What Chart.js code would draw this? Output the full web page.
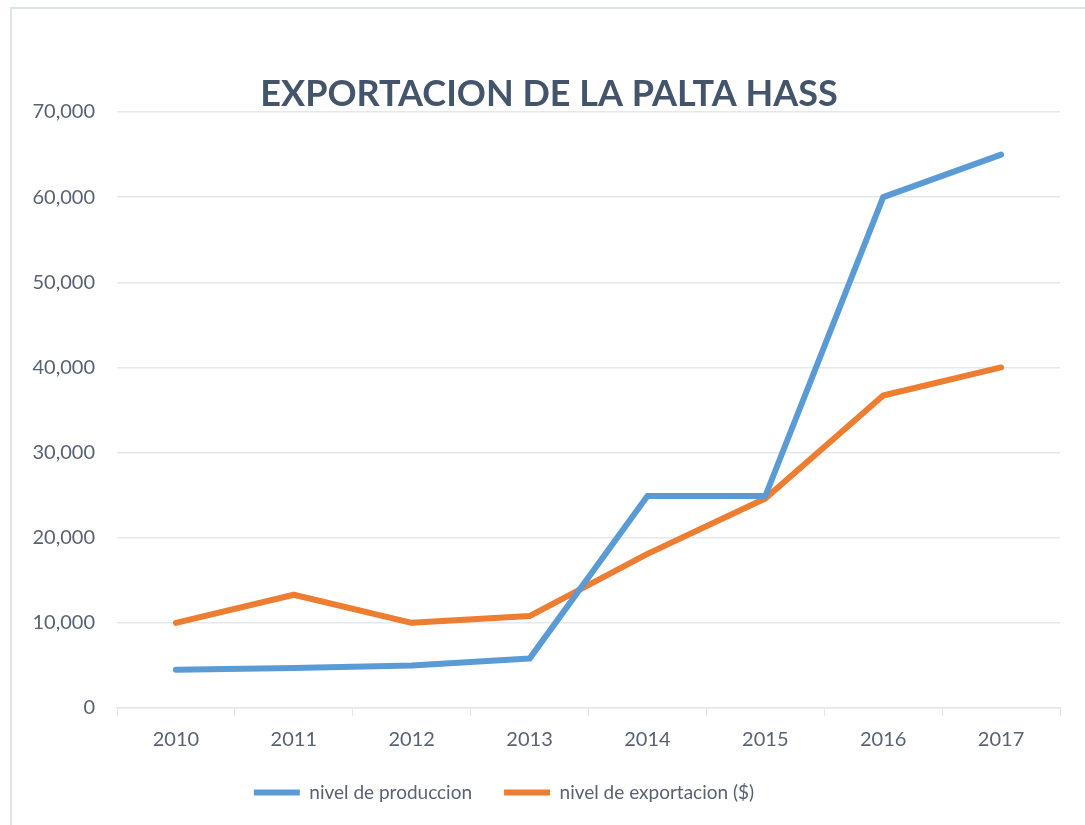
<!DOCTYPE html>
<html>
<head>
<meta charset="utf-8">
<script src="https://cdn.jsdelivr.net/npm/chart.js@4/dist/chart.umd.min.js"></script>
<style>
  html, body { margin: 0; padding: 0; background: #fff; }
  #wrap { position: relative; width: 1085px; height: 825px; }
</style>
</head>
<body>
<div id="wrap"><canvas id="chartPalta"></canvas></div>
<script>
const years = ['2010', '2011', '2012', '2013', '2014', '2015', '2016', '2017'];
const produccion = [4500, 4700, 5000, 5800, 24900, 24900, 60000, 65000];
const exportacion = [10000, 13300, 10000, 10800, 18100, 24600, 36700, 40000];
const yTicks = [0, 10000, 20000, 30000, 40000, 50000, 60000, 70000];

const textColor = '#596273';
const gridColor = '#e3e7ee';

// light frame around the chart, like the spreadsheet chart box
const framePlugin = {
    id: 'frame',
    beforeDraw(chart) {
        const ctx = chart.ctx;
        ctx.save();
        ctx.strokeStyle = '#dde3eb';
        ctx.lineWidth = 2;
        ctx.strokeRect(11, 8, chart.width + 20, chart.height + 20);
        ctx.restore();
    }
};

// title sits a bit right of centre, legend a bit left, in the original
const boxShift = {
    id: 'boxShift',
    afterLayout(chart) {
        chart.titleBlock.left += 12;
        chart.titleBlock.right += 12;
        chart.legend.left -= 33;
        chart.legend.right -= 33;
    }
};

const ctx = document.getElementById('chartPalta').getContext('2d');
new Chart(ctx, {
    type: 'line',
    data: {
        labels: years,
        datasets: [
            {
                label: 'nivel de produccion',
                data: produccion,
                borderColor: '#5b9bd5',
                backgroundColor: '#5b9bd5',
                borderWidth: 6,
                borderCapStyle: 'round',
                borderJoinStyle: 'round',
                pointRadius: 0,
                pointStyle: 'line',
                tension: 0
            },
            {
                label: 'nivel de exportacion ($)',
                data: exportacion,
                borderColor: '#ed7d31',
                backgroundColor: '#ed7d31',
                borderWidth: 6,
                borderCapStyle: 'round',
                borderJoinStyle: 'round',
                pointRadius: 0,
                pointStyle: 'line',
                tension: 0
            }
        ]
    },
    options: {
        responsive: true,
        maintainAspectRatio: false,
        animation: false,
        layout: { padding: { top: 76, left: 14, right: 25, bottom: 13 } },
        plugins: {
            title: {
                display: true,
                text: 'EXPORTACION DE LA PALTA HASS',
                color: '#44546a',
                font: { family: 'Lato', size: 36, weight: 'bold', lineHeight: 1 },
                padding: { top: 0, bottom: 0 }
            },
            legend: {
                position: 'bottom',
                labels: {
                    usePointStyle: true,
                    pointStyleWidth: 46,
                    color: textColor,
                    font: { family: 'Lato', size: 19 },
                    padding: 32
                }
            },
            tooltip: { enabled: false }
        },
        scales: {
            x: {
                offset: true,
                grid: { display: true, drawOnChartArea: false, drawTicks: true, tickLength: 8, color: gridColor, offset: true },
                border: { display: true, color: gridColor, width: 1.5 },
                ticks: { color: textColor, font: { family: 'Lato', size: 20 }, padding: 12 },
                afterFit: axis => { axis.height -= 13; }
            },
            y: {
                min: 0,
                max: 70000,
                afterBuildTicks: axis => { axis.ticks = yTicks.map(v => ({ value: v })); },
                afterFit: axis => { axis.width = 103; },
                grid: { color: gridColor, lineWidth: 1.5, drawTicks: false },
                border: { display: false },
                ticks: {
                    color: textColor,
                    font: { family: 'Lato', size: 20 },
                    padding: 22,
                    callback: v => v.toLocaleString('en-US')
                }
            }
        }
    },
    plugins: [framePlugin, boxShift]
});
</script>
</body>
</html>
